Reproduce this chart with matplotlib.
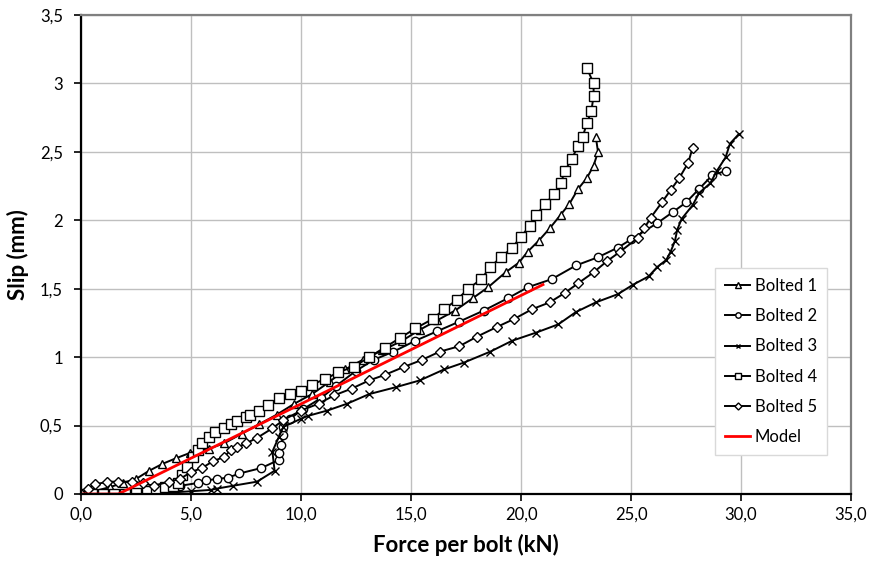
import matplotlib
matplotlib.use("Agg")
import matplotlib.pyplot as plt
from matplotlib.ticker import FixedLocator

plt.rcParams['font.family'] = ['Lato', 'DejaVu Sans']

# ---- data ----
b1_x = [0, 0.6, 1.3, 1.9, 2.5, 3.1, 3.7, 4.3, 4.95, 5.8, 6.5, 7.3, 8.1, 8.9, 9.7, 10.5, 11.3, 12.0, 12.8,
        13.7, 14.6, 15.4, 16.2, 17.0, 17.8, 18.5, 19.3, 19.9, 20.3, 20.8, 21.3, 21.8, 22.2, 22.6, 23.0,
        23.3, 23.5, 23.4]
b1_y = [0, 0.02, 0.05, 0.08, 0.11, 0.17, 0.22, 0.26, 0.30, 0.33, 0.37, 0.44, 0.51, 0.58, 0.66, 0.73, 0.82,
        0.91, 0.98, 1.05, 1.12, 1.20, 1.27, 1.34, 1.43, 1.51, 1.62, 1.69, 1.77, 1.85, 1.94, 2.04, 2.12,
        2.23, 2.31, 2.40, 2.50, 2.61]

b2_x = [0, 1.0, 2.0, 3.0, 3.8, 4.5, 5.3, 5.7, 6.2, 6.7, 7.2, 8.2, 9.0, 9.0, 9.1, 9.2, 9.2, 9.5, 10.1, 10.9,
        11.6, 12.5, 13.3, 14.2, 15.2, 16.2, 17.2, 18.3, 19.4, 20.3, 21.4, 22.5, 23.5, 24.4, 25.0, 26.2,
        26.9, 27.5, 28.1, 28.7, 29.3]
b2_y = [0, 0.0, 0.0, 0.01, 0.03, 0.06, 0.08, 0.10, 0.11, 0.12, 0.15, 0.19, 0.25, 0.30, 0.36, 0.43, 0.49,
        0.55, 0.62, 0.70, 0.79, 0.90, 0.98, 1.04, 1.12, 1.19, 1.26, 1.34, 1.43, 1.51, 1.57, 1.67, 1.73,
        1.80, 1.86, 1.98, 2.06, 2.13, 2.23, 2.33, 2.36]

b3_x = [0, 1.0, 2.0, 3.0, 3.6, 4.0, 5.0, 5.9, 6.2, 6.9, 8.0, 8.8, 8.7, 9.0, 9.2, 10.0, 10.3, 11.2, 12.1,
        13.1, 14.3, 15.4, 16.5, 17.4, 18.6, 19.6, 20.7, 21.7, 22.5, 23.4, 24.4, 25.1, 25.8, 26.2, 26.6,
        26.8, 27.0, 27.1, 27.3, 27.8, 28.1, 28.6, 28.9, 29.3, 29.5, 29.9]
b3_y = [0, 0, 0, 0.0, 0.01, 0.01, 0.02, 0.03, 0.04, 0.06, 0.09, 0.17, 0.31, 0.42, 0.49, 0.55, 0.57, 0.61,
        0.66, 0.73, 0.78, 0.83, 0.91, 0.96, 1.04, 1.12, 1.18, 1.24, 1.33, 1.40, 1.46, 1.53, 1.59, 1.66,
        1.71, 1.77, 1.85, 1.93, 2.01, 2.11, 2.20, 2.27, 2.36, 2.46, 2.56, 2.63]

b4_x = [0, 0.5, 1.0, 1.5, 2.0, 2.5, 3.0, 3.4, 3.8, 4.2, 4.4, 4.6, 4.8, 5.1, 5.3, 5.5, 5.8, 6.1, 6.5, 6.8,
        7.1, 7.5, 7.7, 8.1, 8.5, 9.0, 9.5, 10.0, 10.5, 11.1, 11.7, 12.4, 13.1, 13.8, 14.5, 15.2, 16.0,
        16.5, 17.1, 17.6, 18.2, 18.6, 19.1, 19.6, 20.0, 20.4, 20.7, 21.1, 21.5, 21.8, 22.0, 22.3, 22.6,
        22.8, 23.0, 23.2, 23.3, 23.3, 23.0]
b4_y = [0, 0, 0, 0, 0, 0.01, 0.02, 0.04, 0.05, 0.06, 0.08, 0.14, 0.20, 0.27, 0.32, 0.37, 0.42, 0.45, 0.48,
        0.51, 0.53, 0.56, 0.58, 0.61, 0.65, 0.70, 0.73, 0.75, 0.80, 0.84, 0.89, 0.93, 1.00, 1.07, 1.14,
        1.21, 1.28, 1.35, 1.42, 1.50, 1.57, 1.66, 1.73, 1.80, 1.88, 1.96, 2.04, 2.12, 2.19, 2.27, 2.36,
        2.45, 2.54, 2.61, 2.71, 2.80, 2.91, 3.00, 3.11]

b5_x = [0, 0.3, 0.65, 1.2, 1.7, 2.3, 2.8, 3.3, 4.0, 4.5, 5.0, 5.5, 6.0, 6.5, 6.8, 7.1, 7.5, 8.0, 8.7, 9.2,
        10.0, 10.8, 11.5, 12.3, 13.1, 13.8, 14.7, 15.5, 16.3, 17.2, 18.0, 18.9, 19.7, 20.5, 21.3, 22.0,
        22.6, 23.3, 23.9, 24.5, 25.3, 25.6, 25.9, 26.4, 26.8, 27.2, 27.6, 27.8]
b5_y = [0, 0.04, 0.07, 0.09, 0.09, 0.09, 0.08, 0.06, 0.09, 0.11, 0.16, 0.19, 0.24, 0.27, 0.32, 0.34, 0.37,
        0.41, 0.48, 0.54, 0.61, 0.66, 0.72, 0.77, 0.83, 0.87, 0.93, 0.98, 1.04, 1.08, 1.15, 1.22, 1.28,
        1.35, 1.40, 1.47, 1.54, 1.62, 1.70, 1.77, 1.87, 1.94, 2.02, 2.13, 2.22, 2.31, 2.42, 2.53]

model_x = [0, 1.7, 21.0]
model_y = [0, 0, 1.53]

x_ticks = [0, 5, 10, 15, 20, 25, 30, 35]
x_ticklabels = ["0,0", "5,0", "10,0", "15,0", "20,0", "25,0", "30,0", "35,0"]
y_ticks = [0, 0.5, 1, 1.5, 2, 2.5, 3, 3.5]
y_ticklabels = ["0", "0,5", "1", "1,5", "2", "2,5", "3", "3,5"]

# ---- figure ----
fig = plt.figure(figsize=(8.69, 5.63), dpi=100)
ax = fig.add_axes([81/869, 1-494/563, (851-81)/869, (494-15)/563])

common = dict(color='black', lw=1.4, markerfacecolor='white', markeredgecolor='black',
              markeredgewidth=1.0)
ax.plot(b1_x, b1_y, marker='^', ms=6, label='Bolted 1', **common)
ax.plot(b2_x, b2_y, marker='o', ms=6, label='Bolted 2', **common)
ax.plot(b3_x, b3_y, marker='x', ms=5.5, label='Bolted 3', **common)
ax.plot(b4_x, b4_y, marker='s', ms=6.5, label='Bolted 4', **common)
ax.plot(b5_x, b5_y, marker='D', ms=5.5, label='Bolted 5', **common)
ax.plot(model_x, model_y, color='#ff0000', lw=2, label='Model')

ax.set_xlim(0, 35)
ax.set_ylim(0, 3.5)
ax.xaxis.set_major_locator(FixedLocator(x_ticks))
ax.yaxis.set_major_locator(FixedLocator(y_ticks))
ax.set_xticklabels(x_ticklabels)
ax.set_yticklabels(y_ticklabels)
ax.tick_params(direction='out', length=5, width=1.2, labelsize=12, colors='black', pad=4)
ax.tick_params(axis='y', pad=8)

ax.grid(True, color='#bfbfbf', lw=1)
ax.set_axisbelow(True)
for s in ['left', 'bottom']:
    ax.spines[s].set_color('black')
    ax.spines[s].set_linewidth(1.6)
for s in ['top', 'right']:
    ax.spines[s].set_color('#808080')
    ax.spines[s].set_linewidth(1.6)

ax.set_xlabel('Force per bolt (kN)', fontsize=16, fontweight='bold', labelpad=8)
ax.set_ylabel('Slip (mm)', fontsize=16, fontweight='bold', labelpad=8)

leg = ax.legend(loc='upper left', bbox_to_anchor=(715/869, 1-268/563), bbox_transform=fig.transFigure,
                fontsize=12, frameon=True, fancybox=False, edgecolor='#d9d9d9', framealpha=1,
                handlelength=1.5, handletextpad=0.3, labelspacing=0.85, borderpad=0.6, markerscale=0.65,
                borderaxespad=0)
leg.get_frame().set_linewidth(1)

fig.savefig('out.png', dpi=100)
